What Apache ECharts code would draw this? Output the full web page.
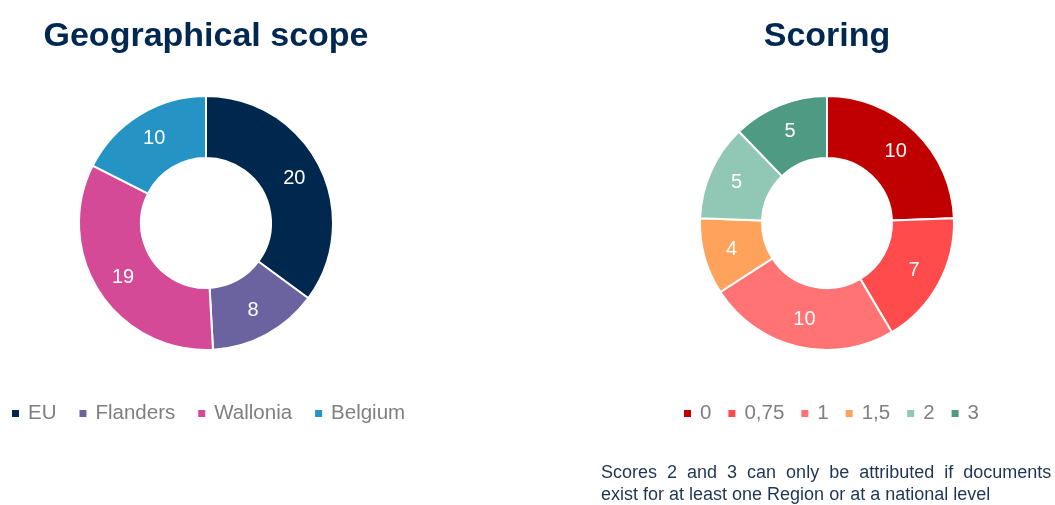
<!DOCTYPE html>
<html><head><meta charset="utf-8">
<script src="https://cdn.jsdelivr.net/npm/echarts@6/dist/echarts.min.js"></script>
<style>html,body{margin:0;padding:0;background:#fff}#c{width:1055px;height:505px}</style>
</head><body><div id="c"></div>
<script>
const geoCategories = ['EU', 'Flanders', 'Wallonia', 'Belgium'];
const geoValues = [20, 8, 19, 10];
const geoColors = ['#00284F', '#6B62A0', '#D54A97', '#2594C4'];
const scoreCategories = ['0', '0,75', '1', '1,5', '2', '3'];
const scoreValues = [10, 7, 10, 4, 5, 5];
const scoreColors = ['#C00000', '#FF4B4B', '#FF7374', '#FFA35C', '#90C8B5', '#4F9A83'];

const chart = echarts.init(document.getElementById('c'));
const font = 'Liberation Sans, Arial, sans-serif';
function pie(name, cats, vals, colors, cx) {
  return {
    type: 'pie', name: name, center: [cx, 223], radius: [65, 127],
    startAngle: 90, clockwise: true,
    itemStyle: { borderColor: '#fff', borderWidth: 2 },
    label: { show: true, position: 'inside', formatter: '{c}', color: '#fff', fontSize: 20, fontFamily: font },
    labelLine: { show: false },
    emphasis: { disabled: true },
    data: cats.map((c, i) => ({ name: c, value: vals[i], itemStyle: { color: colors[i] } }))
  };
}
chart.setOption({
  animation: false,
  title: [
    { text: 'Geographical scope', left: 201, top: 15, textAlign: 'center', textStyle: { color: '#002850', fontSize: 34, fontWeight: 'bold', fontFamily: font } },
    { text: 'Scoring', left: 822, top: 15, textAlign: 'center', textStyle: { color: '#002850', fontSize: 34, fontWeight: 'bold', fontFamily: font } }
  ],
  legend: [
    { data: geoCategories, left: 5, top: 398, icon: 'rect', itemWidth: 9, itemHeight: 9, itemGap: 21,
      textStyle: { color: '#7F7F7F', fontSize: 20.5, fontFamily: font, padding: [0, 0, 0, 3] } },
    { data: scoreCategories, left: 677, top: 398, icon: 'rect', itemWidth: 9, itemHeight: 9, itemGap: 15,
      textStyle: { color: '#7F7F7F', fontSize: 20.5, fontFamily: font, padding: [0, 0, 0, 3] } }
  ],
  graphic: [
    { type: 'text', left: 601, top: 464, style: { text: 'Scores  2  and  3  can  only  be  attributed  if  documents', fill: '#1F3552', fontSize: 18, fontFamily: font } },
    { type: 'text', left: 601, top: 486, style: { text: 'exist for at least one Region or at a national level', fill: '#1F3552', fontSize: 18, fontFamily: font } }
  ],
  series: [
    pie('Geographical scope', geoCategories, geoValues, geoColors, 206),
    pie('Scoring', scoreCategories, scoreValues, scoreColors, 827)
  ]
});
</script></body></html>
